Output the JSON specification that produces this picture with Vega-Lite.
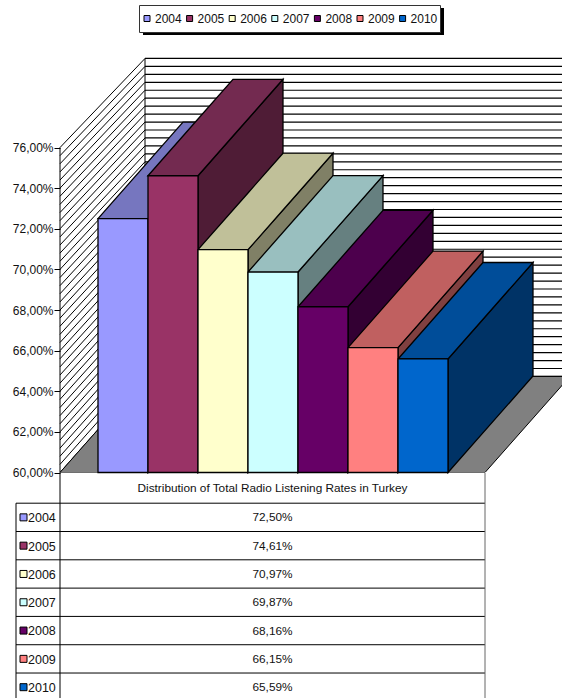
{
"$schema":"https://vega.github.io/schema/vega-lite/v6.json",
"autosize":{"type":"pad"},"padding":0,"spacing":0,"bounds":"flush","background":"white",
"config":{"view":{"stroke":null},"text":{"font":"Liberation Sans"}},
"datasets":{
"bars":[{"year":"2004","value":72.5},{"year":"2005","value":74.61},{"year":"2006","value":70.97},{"year":"2007","value":69.87},{"year":"2008","value":68.16},{"year":"2009","value":66.15},{"year":"2010","value":65.59}],
"levels":[{"level":60},{"level":60.4},{"level":60.8},{"level":61.2},{"level":61.6},{"level":62},{"level":62.4},{"level":62.8},{"level":63.2},{"level":63.6},{"level":64},{"level":64.4},{"level":64.8},{"level":65.2},{"level":65.6},{"level":66},{"level":66.4},{"level":66.8},{"level":67.2},{"level":67.6},{"level":68},{"level":68.4},{"level":68.8},{"level":69.2},{"level":69.6},{"level":70},{"level":70.4},{"level":70.8},{"level":71.2},{"level":71.6},{"level":72},{"level":72.4},{"level":72.8},{"level":73.2},{"level":73.6},{"level":74},{"level":74.4},{"level":74.8},{"level":75.2},{"level":75.6},{"level":76}]
},
"vconcat":[
{"width":562,"height":472.5,
"resolve":{"scale":{"fill":"independent"}},
"layer":[
{"data":{"name":"levels"},"transform":[{"calculate":"64.73+(datum.level-60)*0.9785","as":"back"}],
 "mark":{"type":"rule","stroke":"black","strokeWidth":1.2,"clip":true},
 "encoding":{"x":{"datum":0.94,"type":"quantitative","scale":{"domain":[-1.96,9.28],"nice":false,"zero":false},"axis":null},"x2":{"datum":9.28},
 "y":{"field":"back","type":"quantitative","scale":{"domain":[60,83.264],"nice":false,"zero":false},
  "axis":{"title":null,"values":[60,62,64,66,68,70,72,74,76],"offset":-60,"domain":false,"tickSize":6,"tickColor":"black","labelPadding":1,"labelFont":"Liberation Sans","labelFontSize":12,"labelColor":"#111","grid":false,"labelExpr":"replace(format(datum.value,'.2f'),'.',',')+'%'"}}}},
{"data":{"name":"levels"},"transform":[{"calculate":"64.73+(datum.level-60)*0.9785","as":"back"},{"calculate":"-0.76","as":"xa"},{"calculate":"0.94","as":"xb"}],
 "mark":{"type":"rule","stroke":"black","strokeWidth":1},
 "encoding":{"x":{"field":"xa","type":"quantitative"},"x2":{"field":"xb"},"y":{"field":"level","type":"quantitative"},"y2":{"field":"back"}}},
{"data":{"values":[{}]},"mark":{"type":"rule","stroke":"black","strokeWidth":1},
 "encoding":{"x":{"datum":0.94,"type":"quantitative"},"y":{"datum":64.73,"type":"quantitative"},"y2":{"datum":80.39}}},
{"data":{"values":[{}]},"mark":{"type":"rule","stroke":"black","strokeWidth":1},
 "encoding":{"x":{"datum":-0.76,"type":"quantitative"},"y":{"datum":60,"type":"quantitative"},"y2":{"datum":76}}},
{"data":{"values":[{"value":60}]},
 "transform":[{"calculate":"[0,1.7,8.5,10.2]","as":"dx"},{"flatten":["dx"]},{"calculate":"-0.76+datum.dx","as":"xx"},{"calculate":"datum.value+min(datum.dx,1.7)/1.7*4.73","as":"upper"},{"calculate":"datum.value+max(datum.dx-8.5,0)/1.7*4.73","as":"lower"}],
 "mark":{"type":"area","orient":"vertical","fill":"#808080","stroke":"black","strokeWidth":1,"clip":true},
 "encoding":{"x":{"field":"xx","type":"quantitative"},"y":{"field":"upper","type":"quantitative"},"y2":{"field":"lower"}}},
{"data":{"name":"bars"},
 "transform":[{"calculate":"toNumber(datum.year)-2004","as":"i"},{"calculate":"[1,2.7]","as":"dx"},{"flatten":["dx"]},{"calculate":"datum.i+datum.dx","as":"xx"},{"calculate":"(datum.dx-1)/1.7*4.75","as":"rise"},{"calculate":"datum.value+datum.rise","as":"upper"},{"calculate":"60+datum.rise","as":"lower"}],
 "mark":{"type":"area","orient":"vertical","stroke":"black","strokeWidth":1.3},
 "encoding":{"x":{"field":"xx","type":"quantitative"},"y":{"field":"upper","type":"quantitative"},"y2":{"field":"lower"},
 "fill":{"field":"year","type":"nominal","legend":null,"scale":{"domain":["2004","2005","2006","2007","2008","2009","2010"],"range":["#4D4D80","#4F1C36","#808066","#668080","#330033","#804040","#003366"]}}}},
{"data":{"name":"bars"},
 "transform":[{"calculate":"toNumber(datum.year)-2004","as":"i"},{"calculate":"[0,1,1.7,2.7]","as":"dx"},{"flatten":["dx"]},{"calculate":"datum.i+datum.dx","as":"xx"},{"calculate":"datum.value+min(datum.dx,1.7)/1.7*4.75","as":"upper"},{"calculate":"datum.value+max(datum.dx-1,0)/1.7*4.75","as":"lower"}],
 "mark":{"type":"area","orient":"vertical","stroke":"black","strokeWidth":1.3},
 "encoding":{"x":{"field":"xx","type":"quantitative"},"y":{"field":"upper","type":"quantitative"},"y2":{"field":"lower"},
 "fill":{"field":"year","type":"nominal","legend":null,"scale":{"domain":["2004","2005","2006","2007","2008","2009","2010"],"range":["#7676BF","#732A50","#C0C099","#99BFBF","#4D004D","#C06060","#004D99"]}}}},
{"data":{"name":"bars"},
 "transform":[{"calculate":"toNumber(datum.year)-2004","as":"i"},{"calculate":"datum.i+1","as":"j"},{"calculate":"60","as":"base"}],
 "mark":{"type":"rect","stroke":"black","strokeWidth":1.3},
 "encoding":{"x":{"field":"i","type":"quantitative"},"x2":{"field":"j"},"y":{"field":"value","type":"quantitative"},"y2":{"field":"base"},
 "fill":{"field":"year","type":"nominal","scale":{"domain":["2004","2005","2006","2007","2008","2009","2010"],"range":["#9999FF","#993366","#FFFFCC","#CCFFFF","#660066","#FF8080","#0066CC"]},
 "legend":{"title":null,"orient":"none","legendX":139,"legendY":5,"direction":"horizontal","columns":7,"symbolType":"square","symbolSize":36,"symbolStrokeColor":"black","symbolStrokeWidth":1,"labelFont":"Liberation Sans","labelFontSize":12,"labelColor":"#111","labelOffset":2,"columnPadding":1.6,"padding":2,"clipHeight":23,"fillColor":"white","strokeColor":"#333","symbolOpacity":1}}}},
{"data":{"values":[{}]},"mark":{"type":"rect","fill":"black"},
 "encoding":{"x":{"datum":0.9,"type":"quantitative"},"x2":{"datum":6.92},"y":{"datum":81.54,"type":"quantitative"},"y2":{"datum":82.87}}}
]},
{"width":562,"height":225.5,
"layer":[
{"data":{"name":"bars"},"transform":[{"calculate":"toNumber(datum.year)-2004","as":"i"},{"calculate":"-1.64","as":"xa"},{"calculate":"7.74","as":"xb"}],
 "mark":{"type":"rule","stroke":"black","strokeWidth":1},
 "encoding":{"x":{"field":"xa","type":"quantitative","scale":{"domain":[-1.96,9.28],"nice":false,"zero":false},"axis":null},"x2":{"field":"xb"},
 "y":{"field":"i","type":"quantitative","scale":{"domain":[-1.067,6.9],"nice":false,"zero":false,"reverse":true},"axis":null}}},
{"data":{"values":[{}]},"mark":{"type":"rule","stroke":"black","strokeWidth":1},
 "encoding":{"x":{"datum":-1.64,"type":"quantitative"},"y":{"datum":0,"type":"quantitative"},"y2":{"datum":6.9}}},
{"data":{"values":[{}]},"mark":{"type":"rule","stroke":"black","strokeWidth":1},
 "encoding":{"x":{"datum":-0.76,"type":"quantitative"},"y":{"datum":-1.067,"type":"quantitative"},"y2":{"datum":6.9}}},
{"data":{"values":[{}]},"mark":{"type":"rule","stroke":"#666","strokeWidth":1},
 "encoding":{"x":{"datum":7.74,"type":"quantitative"},"y":{"datum":-1.067,"type":"quantitative"},"y2":{"datum":6.9}}},
{"data":{"values":[{"title":"Distribution of Total Radio Listening Rates in Turkey"}]},
 "mark":{"type":"text","font":"Liberation Sans","fontSize":11.8,"fill":"#111","align":"center","baseline":"middle"},
 "encoding":{"x":{"datum":3.49,"type":"quantitative"},"y":{"datum":-0.55,"type":"quantitative"},"text":{"field":"title"}}},
{"data":{"name":"bars"},"transform":[{"calculate":"toNumber(datum.year)-2004+0.5","as":"mid"}],
 "mark":{"type":"point","shape":"square","size":49,"filled":true,"opacity":1,"stroke":"black","strokeWidth":1},
 "encoding":{"x":{"datum":-1.49,"type":"quantitative"},"y":{"field":"mid","type":"quantitative"},
 "fill":{"field":"year","type":"nominal","legend":null,"scale":{"domain":["2004","2005","2006","2007","2008","2009","2010"],"range":["#9999FF","#993366","#FFFFCC","#CCFFFF","#660066","#FF8080","#0066CC"]}}}},
{"data":{"name":"bars"},"transform":[{"calculate":"toNumber(datum.year)-2004+0.53","as":"mid"}],
 "mark":{"type":"text","font":"Liberation Sans","fontSize":12.5,"fill":"#111","align":"left","baseline":"middle"},
 "encoding":{"x":{"datum":-1.4,"type":"quantitative"},"y":{"field":"mid","type":"quantitative"},"text":{"field":"year"}}},
{"data":{"name":"bars"},"transform":[{"calculate":"toNumber(datum.year)-2004+0.5","as":"mid"},{"calculate":"replace(format(datum.value,'.2f'),'.',',')+'%'","as":"label"}],
 "mark":{"type":"text","font":"Liberation Sans","fontSize":11.8,"fill":"#111","align":"center","baseline":"middle"},
 "encoding":{"x":{"datum":3.49,"type":"quantitative"},"y":{"field":"mid","type":"quantitative"},"text":{"field":"label"}}}
]}
]}
